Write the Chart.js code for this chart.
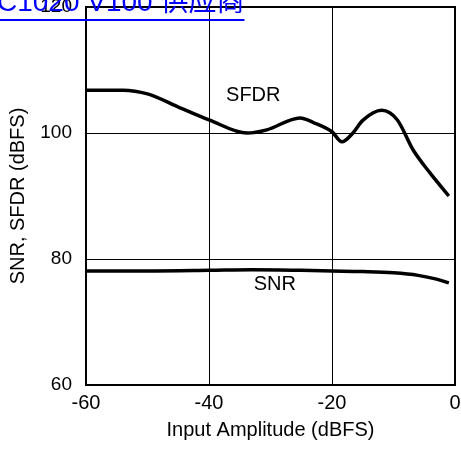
<!DOCTYPE html>
<html>
<head>
<meta charset="utf-8">
<script src="https://cdn.jsdelivr.net/npm/chart.js@4.4.1/dist/chart.umd.min.js"></script>
<style>
  html, body { margin: 0; padding: 0; background: #fff; }
  #wrap { position: relative; width: 461px; height: 457px; overflow: hidden; }
  #link {
    position: absolute; left: -3px; top: -13px; white-space: nowrap;
    font: 28px "Liberation Sans", "Noto Sans CJK SC", sans-serif; line-height: 30px;
    color: #0000ff; text-decoration: underline; text-underline-offset: 8px;
    text-decoration-thickness: 2px;
  }
  canvas { position: absolute; left: 0; top: 0; }
</style>
</head>
<body>
<div id="wrap">
  <canvas id="chart" width="461" height="457"></canvas>
  <div id="link">C1020 V100 供应商</div>
</div>
<script>
const xTicks = [-60, -40, -20, 0];
const yTicks = [60, 80, 100, 120];

const sfdrX = [-60, -54, -50, -44.7, -40, -33.8, -30.6, -25.2, -23.1, -20, -18.4, -16.6, -15, -11.9, -9.4, -6.8, -4.1, -1];
const sfdrY = [106.8, 106.8, 106.2, 104, 102.1, 100, 100.5, 102.4, 101.7, 100.2, 98.6, 100, 102, 103.6, 102.1, 97.3, 93.7, 90];

const snrX = [-60, -50, -40, -33, -25, -20, -15, -10, -6, -3, -1];
const snrY = [78.1, 78.1, 78.2, 78.3, 78.2, 78.1, 78.0, 77.8, 77.4, 76.8, 76.2];

const curveLabels = [
  { text: 'SFDR', x: -32.8, y: 105.9 },
  { text: 'SNR', x: -29.3, y: 75.9 },
];

const FONT = '"Liberation Sans", Arial, sans-serif';

const framePlugin = {
  id: 'frame',
  afterDraw(chart) {
    const { ctx, chartArea: a, scales } = chart;
    ctx.save();
    ctx.strokeStyle = '#000';
    ctx.lineWidth = 2;
    ctx.strokeRect(a.left, a.top, a.right - a.left, a.bottom - a.top);
    ctx.fillStyle = '#000';
    ctx.font = '20px ' + FONT;
    ctx.textAlign = 'center';
    ctx.textBaseline = 'middle';
    curveLabels.forEach(l => {
      ctx.fillText(l.text, scales.x.getPixelForValue(l.x), scales.y.getPixelForValue(l.y));
    });
    ctx.restore();
  }
};

const gridColor = ctx => {
  const v = ctx.tick && ctx.tick.value;
  return (v === ctx.scale.min || v === ctx.scale.max) ? 'rgba(0,0,0,0)' : '#000';
};

const toPts = (xs, ys) => xs.map((x, i) => ({ x, y: ys[i] }));

new Chart(document.getElementById('chart'), {
  type: 'line',
  data: {
    datasets: [
      { label: 'SFDR', data: toPts(sfdrX, sfdrY), borderColor: '#000', borderWidth: 3.5, pointRadius: 0, cubicInterpolationMode: 'monotone', fill: false },
      { label: 'SNR', data: toPts(snrX, snrY), borderColor: '#000', borderWidth: 3.5, pointRadius: 0, cubicInterpolationMode: 'monotone', fill: false },
    ],
  },
  options: {
    responsive: false,
    animation: false,
    layout: { padding: { top: 7, right: 6, left: 0, bottom: 0 } },
    plugins: { legend: { display: false }, tooltip: { enabled: false } },
    scales: {
      x: {
        type: 'linear', min: -60, max: 0,
        afterBuildTicks: s => { s.ticks = xTicks.map(v => ({ value: v })); },
        afterFit: s => { s.height = 72; s.paddingLeft = 0; s.paddingRight = 0; },
        border: { display: false },
        grid: { color: gridColor, lineWidth: 1, drawTicks: false },
        ticks: { color: '#000', font: { family: FONT, size: 20 }, padding: 6, maxRotation: 0 },
        title: { display: true, text: 'Input Amplitude (dBFS)', color: '#000', font: { family: FONT, size: 20 }, padding: { top: 0, bottom: 15 } },
      },
      y: {
        type: 'linear', min: 60, max: 120,
        afterBuildTicks: s => { s.ticks = yTicks.map(v => ({ value: v })); },
        afterFit: s => { s.width = 86; s.paddingTop = 0; s.paddingBottom = 0; },
        border: { display: false },
        grid: { color: gridColor, lineWidth: 1, drawTicks: false },
        ticks: { color: '#000', font: { family: FONT, size: 19 }, padding: 14 },
        title: { display: true, text: 'SNR, SFDR (dBFS)', color: '#000', font: { family: FONT, size: 20 }, padding: { top: 6, bottom: 0 } },
      },
    },
  },
  plugins: [framePlugin],
});
</script>
</body>
</html>
